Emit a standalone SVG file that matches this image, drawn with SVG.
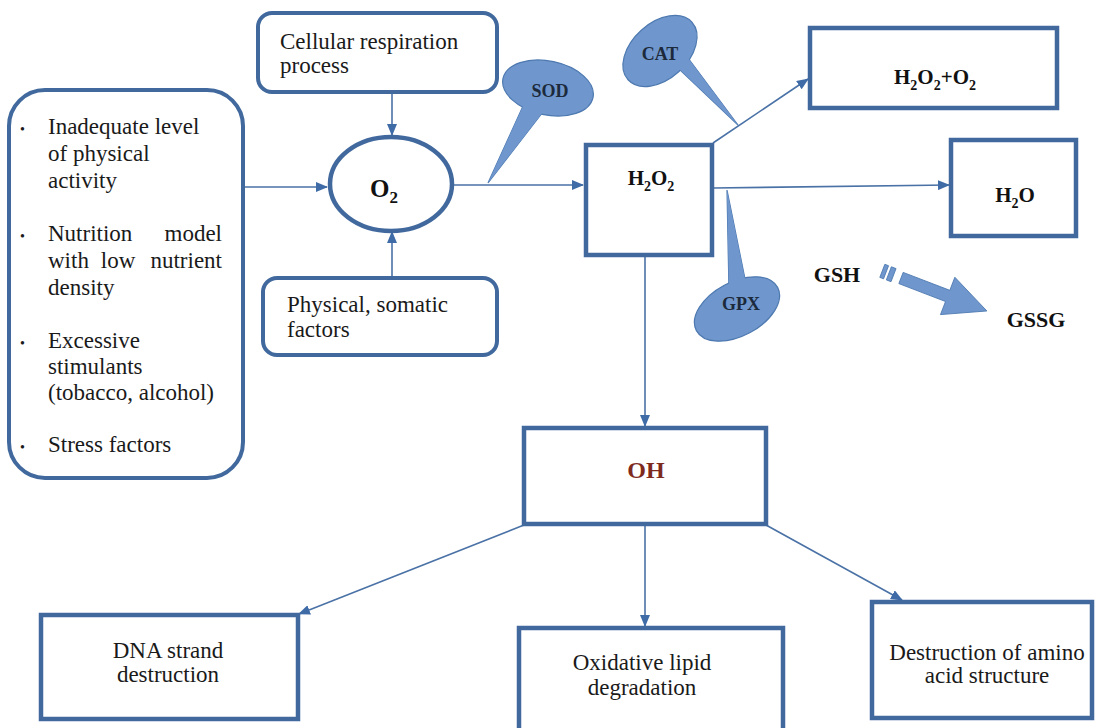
<svg xmlns="http://www.w3.org/2000/svg" width="1099" height="728" viewBox="0 0 1099 728">
<defs>
<style>
.box{fill:#fff;stroke:#41699e;stroke-width:4.5}
.rbox{fill:#fff;stroke:#41699e;stroke-width:4}
.con{fill:none;stroke:#4a72a6;stroke-width:1.6}
.call{fill:#6f97cd;stroke:#4d79b0;stroke-width:1.2}
.callf{fill:#6f97cd;stroke:none}
.t{font-family:"Liberation Serif","Times New Roman",serif;font-size:23px;fill:#1a1a1a}
.b{font-family:"Liberation Serif","Times New Roman",serif;font-weight:bold;fill:#111}
.cl{font-family:"Liberation Serif","Times New Roman",serif;font-weight:bold;font-size:18px;fill:#1c2a3c}
</style>
<marker id="ah" viewBox="0 0 12 10" refX="11" refY="5" markerWidth="12" markerHeight="10" markerUnits="userSpaceOnUse" orient="auto">
<path d="M0,0 L12,5 L0,10 z" fill="#3f6ba6"/>
</marker>
</defs>
<rect width="1099" height="728" fill="#fff"/>

<g id="connectors">
<line class="con" x1="245" y1="187" x2="327" y2="187" marker-end="url(#ah)"/>
<line class="con" x1="392" y1="92" x2="392" y2="135" marker-end="url(#ah)"/>
<line class="con" x1="392" y1="277" x2="392" y2="232" marker-end="url(#ah)"/>
<line class="con" x1="453" y1="185" x2="583" y2="185" marker-end="url(#ah)"/>
<line class="con" x1="713" y1="143" x2="808" y2="79" marker-end="url(#ah)"/>
<line class="con" x1="713" y1="188" x2="949" y2="185" marker-end="url(#ah)"/>
<line class="con" x1="645" y1="257" x2="645" y2="426" marker-end="url(#ah)"/>
<line class="con" x1="524" y1="525" x2="299" y2="614" marker-end="url(#ah)"/>
<line class="con" x1="645" y1="526" x2="645" y2="626" marker-end="url(#ah)"/>
<line class="con" x1="766" y1="525" x2="902" y2="600" marker-end="url(#ah)"/>
</g>

<g id="factors">
<rect class="rbox" x="9" y="90" width="234" height="388" rx="36" ry="36"/>
<g class="t">
<text x="20" y="134" font-size="14">•</text>
<text x="48" y="134">Inadequate level</text>
<text x="48" y="161">of physical</text>
<text x="48" y="188">activity</text>
<text x="20" y="241" font-size="14">•</text>
<text x="48" y="241">Nutrition</text>
<text x="222" y="241" text-anchor="end">model</text>
<text x="48" y="268">with</text>
<text x="118" y="268" text-anchor="middle">low</text>
<text x="222" y="268" text-anchor="end">nutrient</text>
<text x="48" y="295">density</text>
<text x="20" y="348" font-size="14">•</text>
<text x="48" y="348">Excessive</text>
<text x="48" y="374">stimulants</text>
<text x="48" y="400">(tobacco, alcohol)</text>
<text x="20" y="452" font-size="14">•</text>
<text x="48" y="452">Stress factors</text>
</g>
</g>

<g id="cellular">
<rect class="rbox" x="258" y="13" width="239" height="79" rx="14" ry="14"/>
<text class="t" x="280" y="49">Cellular respiration</text>
<text class="t" x="280" y="73">process</text>
</g>

<g id="physical">
<rect class="rbox" x="263" y="278" width="234" height="77" rx="14" ry="14"/>
<text class="t" x="287" y="312">Physical, somatic</text>
<text class="t" x="287" y="337">factors</text>
</g>

<g id="o2">
<ellipse cx="391" cy="184" rx="61" ry="47" fill="#fff" stroke="#41699e" stroke-width="4.5"/>
<text class="b" x="384" y="197" font-size="25" text-anchor="middle">O<tspan font-size="17" dy="6">2</tspan></text>
</g>

<g id="sod">
<polygon class="call" points="524,104 546,108 488,183"/>
<ellipse class="call" cx="548" cy="88" rx="46" ry="27" transform="rotate(12 548 88)"/>
<polygon class="callf" points="524,104 546,108 488,183"/>
<text class="cl" x="550" y="97" text-anchor="middle">SOD</text>
</g>

<g id="cat">
<polygon class="call" points="676,66 688,58 738,125"/>
<ellipse class="call" cx="660" cy="51" rx="43" ry="28" transform="rotate(-42 660 51)"/>
<polygon class="callf" points="676,66 688,58 738,125"/>
<text class="cl" x="660" y="60" text-anchor="middle">CAT</text>
</g>

<g id="h2o2">
<rect class="box" x="586" y="145" width="126" height="110"/>
<text class="b" x="651" y="185" font-size="21" text-anchor="middle">H<tspan font-size="14" dy="6">2</tspan><tspan dy="-6">O</tspan><tspan font-size="14" dy="6">2</tspan></text>
</g>

<g id="h2o2o2">
<rect class="box" x="810" y="28" width="247" height="80"/>
<text class="b" x="935" y="84" font-size="21" text-anchor="middle">H<tspan font-size="14" dy="6">2</tspan><tspan dy="-6">O</tspan><tspan font-size="14" dy="6">2</tspan><tspan dy="-6">+O</tspan><tspan font-size="14" dy="6">2</tspan></text>
</g>

<g id="h2o">
<rect class="box" x="951" y="140" width="125" height="96"/>
<text class="b" x="1015" y="202" font-size="21" text-anchor="middle">H<tspan font-size="14" dy="6">2</tspan><tspan dy="-6">O</tspan></text>
</g>

<g id="gpx">
<polygon class="call" points="729,292 746,284 727,190"/>
<ellipse class="call" cx="737" cy="309" rx="46" ry="27" transform="rotate(-28 737 309)"/>
<polygon class="callf" points="729,292 746,284 727,190"/>
<text class="cl" x="741" y="310" text-anchor="middle">GPX</text>
</g>

<g id="gsh">
<text class="b" x="837" y="282" font-size="22" text-anchor="middle">GSH</text>
</g>

<g id="gsh-arrow" transform="translate(901 278) rotate(21)">
<rect x="-20" y="-7" width="4" height="14" fill="#6f97cd" stroke="#4d79b0" stroke-width="0.8"/>
<rect x="-13" y="-7" width="5" height="14" fill="#6f97cd" stroke="#4d79b0" stroke-width="0.8"/>
<polygon points="0,-6 50,-6 50,-20 92,0 50,20 50,6 0,6" fill="#6f97cd" stroke="#4d79b0" stroke-width="0.8"/>
</g>

<g id="gssg">
<text class="b" x="1036" y="327" font-size="22" text-anchor="middle">GSSG</text>
</g>

<g id="oh">
<rect class="box" x="524" y="428" width="242" height="96"/>
<text class="b" x="646" y="478" font-size="24" text-anchor="middle" style="fill:#7e2b1e">OH</text>
</g>

<g id="dna">
<rect class="box" x="41" y="615" width="257" height="104"/>
<text class="t" x="168" y="658" text-anchor="middle">DNA strand</text>
<text class="t" x="168" y="682" text-anchor="middle">destruction</text>
</g>

<g id="lipid">
<rect class="box" x="519" y="628" width="264" height="110"/>
<text class="t" x="642" y="670" text-anchor="middle">Oxidative lipid</text>
<text class="t" x="642" y="695" text-anchor="middle">degradation</text>
</g>

<g id="amino">
<rect class="box" x="872" y="602" width="220" height="116"/>
<text class="t" x="987" y="660" text-anchor="middle">Destruction of amino</text>
<text class="t" x="987" y="683" text-anchor="middle">acid structure</text>
</g>
</svg>
